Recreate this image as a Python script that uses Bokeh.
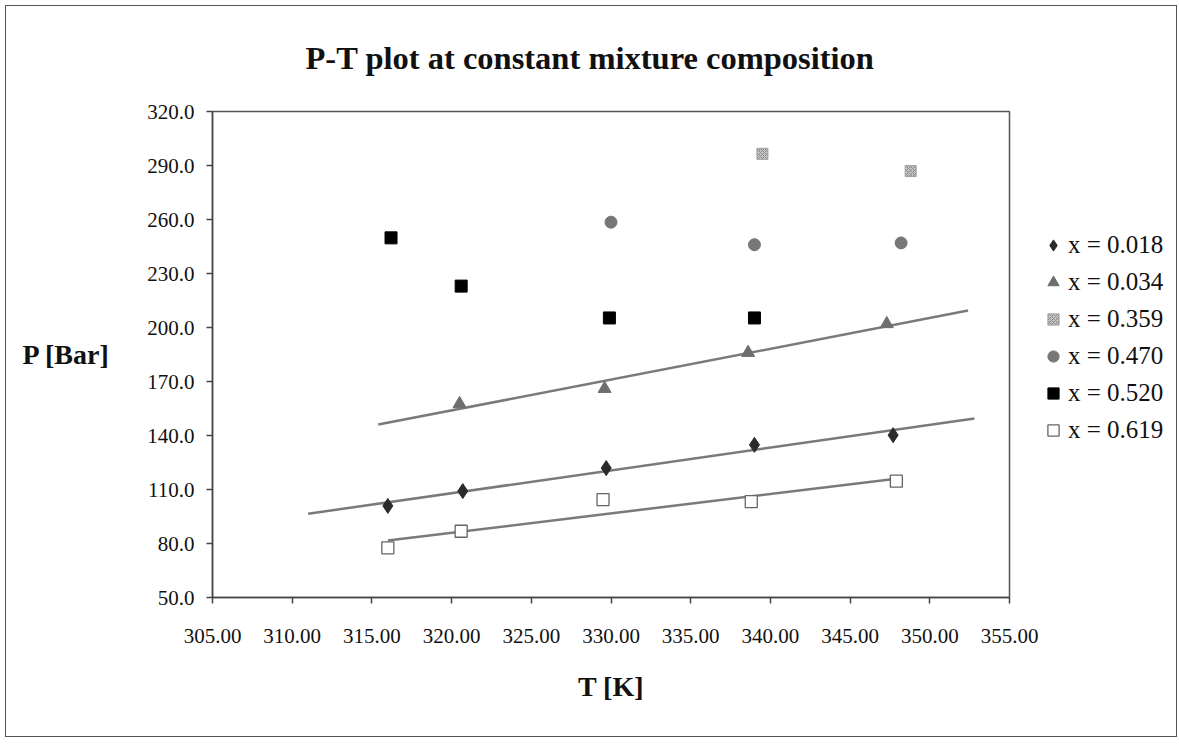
import numpy as np
from bokeh.plotting import figure
from bokeh.models import (FixedTicker, NumeralTickFormatter, Legend, LegendItem, Range1d,
                          InlineStyleSheet)
from bokeh.embed import file_html
from bokeh.resources import INLINE

# ---- data ----
T_018 = [316.0, 320.7, 329.7, 339.0, 347.7]
P_018 = [100.9, 109.1, 121.9, 134.8, 140.2]
T_034 = [320.5, 329.6, 338.6, 347.3]
P_034 = [157.6, 166.0, 186.0, 202.0]
T_359 = [339.5, 348.8]
P_359 = [296.5, 286.9]
T_470 = [330.0, 339.0, 348.2]
P_470 = [258.5, 246.0, 247.0]
T_520 = [316.2, 320.6, 329.9, 339.0]
P_520 = [249.8, 223.0, 205.3, 205.3]
T_619 = [316.0, 320.6, 329.5, 338.8, 347.9]
P_619 = [77.6, 86.8, 104.4, 103.3, 114.6]

# trendline extents (Excel-style linear trendlines with forecast)
trend_018 = [311.0, 352.8]
trend_034 = [315.4, 352.4]
trend_619 = [316.0, 347.9]

x_ticks = [305, 310, 315, 320, 325, 330, 335, 340, 345, 350, 355]
y_ticks = [50, 80, 110, 140, 170, 200, 230, 260, 290, 320]

SERIF = "Liberation Serif"

frame_css = InlineStyleSheet(css="""
:host::after {
  content: "";
  position: absolute;
  left: 5px; top: 5px;
  width: 1170px; height: 730px;
  border: 1.5px solid #555555;
  pointer-events: none;
  z-index: 100;
}
""")

p = figure(frame_width=797, frame_height=486, output_backend="svg", toolbar_location=None,
           x_range=Range1d(305, 355), y_range=Range1d(50, 320),
           min_border_left=212, min_border_right=170,
           min_border_top=111, min_border_bottom=147,
           stylesheets=[frame_css])
p.background_fill_color = "white"
p.border_fill_color = "white"
p.outline_line_color = "#555555"
p.outline_line_width = 1.5
p.xgrid.visible = False
p.ygrid.visible = False

# title
p.title.text = "P-T plot at constant mixture composition"
p.title.text_font = SERIF
p.title.text_font_style = "bold"
p.title.text_font_size = "32.5px"
p.title.text_color = "#111111"
p.title.align = "left"
p.title.offset = 93
p.title.standoff = 72

for ax in (p.xaxis[0], p.yaxis[0]):
    ax.axis_line_color = "#444444"
    ax.axis_line_width = 1.5
    ax.major_tick_line_color = "#444444"
    ax.major_tick_line_width = 1.5
    ax.major_tick_out = 6
    ax.major_tick_in = 0
    ax.minor_tick_line_color = None
    ax.major_label_text_font = SERIF
    ax.major_label_text_font_size = "21px"
    ax.major_label_text_color = "#111111"
    ax.axis_label_text_font = SERIF
    ax.axis_label_text_font_style = "bold"
    ax.axis_label_text_font_size = "28px"
    ax.axis_label_text_color = "#111111"

p.xaxis[0].ticker = FixedTicker(ticks=x_ticks)
p.yaxis[0].ticker = FixedTicker(ticks=y_ticks)
p.xaxis[0].formatter = NumeralTickFormatter(format="0.00")
p.yaxis[0].formatter = NumeralTickFormatter(format="0.0")
p.xaxis[0].major_label_standoff = 25
p.yaxis[0].major_label_standoff = 12
p.xaxis[0].axis_label = "T [K]"
p.xaxis[0].axis_label_standoff = 25
p.yaxis[0].axis_label = "P [Bar]"
p.yaxis[0].axis_label_orientation = "horizontal"
p.yaxis[0].axis_label_standoff = 34

# trendlines
line_col = "#7a7a7a"
for Ts, Ps, ext in ((T_018, P_018, trend_018), (T_034, P_034, trend_034), (T_619, P_619, trend_619)):
    k, b = np.polyfit(Ts, Ps, 1)
    xs = np.array(ext)
    p.line(xs, k * xs + b, line_color=line_col, line_width=2.5)

r018 = p.scatter(T_018, P_018, marker="diamond", size=15, fill_color="#2b2b2b", line_color="#2b2b2b")
r034 = p.scatter(T_034, P_034, marker="triangle", size=13, fill_color="#6e6e6e", line_color="#6e6e6e")
r359 = p.scatter(T_359, P_359, marker="square", size=11, fill_color="#c4c4c4", line_color="#a0a0a0",
                 hatch_pattern="x", hatch_color="#8a8a8a", hatch_scale=4, hatch_weight=1)
r470 = p.scatter(T_470, P_470, marker="circle", size=12, fill_color="#777777", line_color="#777777")
r520 = p.scatter(T_520, P_520, marker="square", size=12, fill_color="#000000", line_color="#000000")
r619 = p.scatter(T_619, P_619, marker="square", size=12, fill_color="white", line_color="#666666", line_width=1.3)

legend = Legend(items=[
    LegendItem(label="x = 0.018", renderers=[r018]),
    LegendItem(label="x = 0.034", renderers=[r034]),
    LegendItem(label="x = 0.359", renderers=[r359]),
    LegendItem(label="x = 0.470", renderers=[r470]),
    LegendItem(label="x = 0.520", renderers=[r520]),
    LegendItem(label="x = 0.619", renderers=[r619]),
], location=(30, 152))
legend.border_line_color = None
legend.background_fill_alpha = 0
legend.padding = 0
legend.margin = 0
legend.spacing = 7
legend.glyph_width = 28
legend.glyph_height = 30
legend.label_height = 30
legend.label_standoff = 1
legend.label_text_font = SERIF
legend.label_text_font_size = "25px"
legend.label_text_color = "#111111"
p.add_layout(legend, "right")

open("out.html", "w").write(file_html(p, INLINE))
